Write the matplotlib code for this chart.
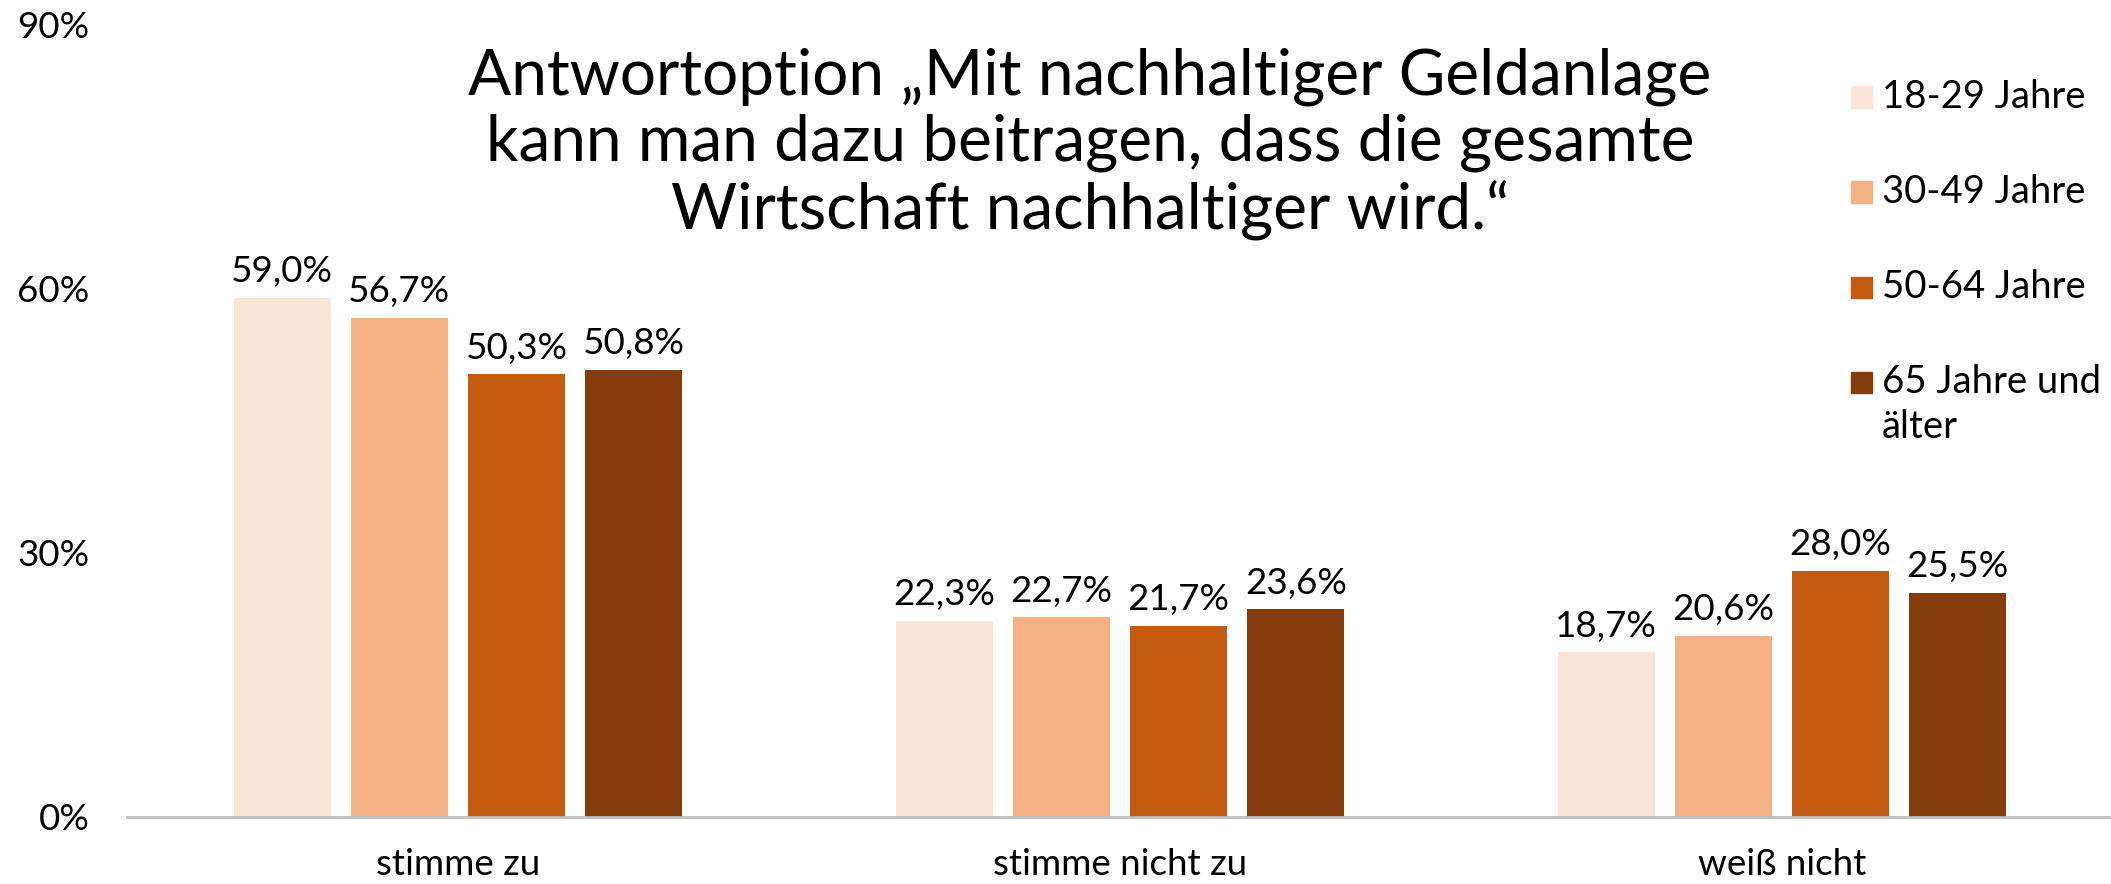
import matplotlib.pyplot as plt
from matplotlib.patches import Rectangle
import numpy as np

# Daten
kategorien = ["stimme zu", "stimme nicht zu", "weiß nicht"]
gruppen = ["18-29 Jahre", "30-49 Jahre", "50-64 Jahre", "65 Jahre und\nälter"]
werte_18_29 = [59.0, 22.3, 18.7]
werte_30_49 = [56.7, 22.7, 20.6]
werte_50_64 = [50.3, 21.7, 28.0]
werte_65 = [50.8, 23.6, 25.5]
farben = ["#FBE5D6", "#F4B183", "#C55A11", "#843C0C"]

plt.rcParams['font.family'] = ['Lato', 'DejaVu Sans']

W, H = 2111, 884
fig = plt.figure(figsize=(W / 100, H / 100), dpi=100)
ax = fig.add_axes([127 / W, 1 - 817 / H, (2113 - 127) / W, (817 - 25) / H])

x = np.arange(len(kategorien))
breite = 0.147
abstand = 0.177
alle = [werte_18_29, werte_30_49, werte_50_64, werte_65]

for i, (werte, farbe, name) in enumerate(zip(alle, farben, gruppen)):
    pos = x + (i - 1.5) * abstand
    bars = ax.bar(pos, werte, breite, color=farbe, label=name, zorder=2)
    for b, v in zip(bars, werte):
        ax.annotate(f"{v:.1f}%".replace(".", ","),
                    (b.get_x() + b.get_width() / 2, v),
                    xytext=(0, 7), textcoords="offset points",
                    ha="center", va="bottom", fontsize=26.5)

ax.set_xlim(-0.5, 2.5)
ax.set_ylim(0, 90)
ax.set_yticks([0, 30, 60, 90])
ax.set_yticklabels(["0%", "30%", "60%", "90%"])
ax.set_xticks(x)
ax.set_xticklabels(kategorien)
ax.tick_params(axis="both", length=0, labelsize=26.5)
ax.tick_params(axis="x", pad=22)
ax.tick_params(axis="y", pad=27)
for s in ["top", "right", "left"]:
    ax.spines[s].set_visible(False)
ax.spines["bottom"].set_color("#BFBFBF")
ax.spines["bottom"].set_linewidth(2)

# Titel
fig.text(1090 / W, 1 - 144 / H,
         "Antwortoption \u201eMit nachhaltiger Geldanlage\nkann man dazu beitragen, dass die gesamte\nWirtschaft nachhaltiger wird.\u201c",
         ha="center", va="center", fontsize=46, linespacing=1.16)

# Legende (Quadrat an der ersten Textzeile ausgerichtet)
for k, (farbe, name) in enumerate(zip(farben, gruppen)):
    yc = 97 + k * 95
    fig.add_artist(Rectangle((1851 / W, 1 - (yc + 10.5) / H), 21 / W, 21 / H,
                             transform=fig.transFigure, color=farbe))
    for j, zeile in enumerate(name.split("\n")):
        fig.text(1882 / W, 1 - (yc + j * 45) / H, zeile,
                 ha="left", va="center", fontsize=27.5)

plt.savefig("out.png", dpi=100)
